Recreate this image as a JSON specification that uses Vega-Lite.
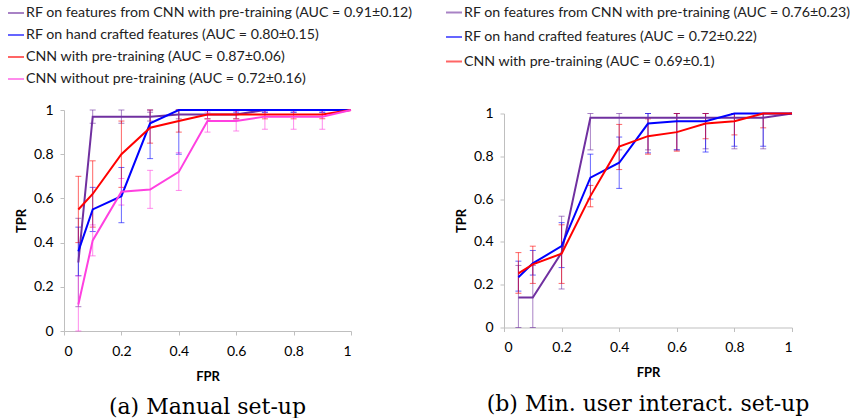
{
  "$schema": "https://vega.github.io/schema/vega-lite/v6.json",
  "padding": {"left": 7, "top": 3, "right": 0, "bottom": 0},
  "background": "white",
  "bounds": "flush",
  "center": true,
  "spacing": 153,
  "datasets": {
    "a": [
      {"series": "RF on features from CNN with pre-training (AUC = 0.91±0.12)", "fpr": 0.05, "tpr": 0.31, "lo": 0.11, "hi": 0.51},
      {"series": "RF on features from CNN with pre-training (AUC = 0.91±0.12)", "fpr": 0.1, "tpr": 0.97, "lo": 0.94, "hi": 1.0},
      {"series": "RF on features from CNN with pre-training (AUC = 0.91±0.12)", "fpr": 0.2, "tpr": 0.97, "lo": 0.94, "hi": 1.0},
      {"series": "RF on features from CNN with pre-training (AUC = 0.91±0.12)", "fpr": 0.3, "tpr": 0.97, "lo": 0.95, "hi": 0.99},
      {"series": "RF on features from CNN with pre-training (AUC = 0.91±0.12)", "fpr": 0.4, "tpr": 0.98, "lo": 0.96, "hi": 1.0},
      {"series": "RF on features from CNN with pre-training (AUC = 0.91±0.12)", "fpr": 0.5, "tpr": 0.98, "lo": 0.96, "hi": 1.0},
      {"series": "RF on features from CNN with pre-training (AUC = 0.91±0.12)", "fpr": 0.6, "tpr": 0.98, "lo": 0.96, "hi": 1.0},
      {"series": "RF on features from CNN with pre-training (AUC = 0.91±0.12)", "fpr": 0.7, "tpr": 1.0, "lo": 0.99, "hi": 1.0},
      {"series": "RF on features from CNN with pre-training (AUC = 0.91±0.12)", "fpr": 0.8, "tpr": 1.0, "lo": 0.99, "hi": 1.0},
      {"series": "RF on features from CNN with pre-training (AUC = 0.91±0.12)", "fpr": 0.9, "tpr": 1.0, "lo": 0.99, "hi": 1.0},
      {"series": "RF on features from CNN with pre-training (AUC = 0.91±0.12)", "fpr": 1.0, "tpr": 1.0, "lo": null, "hi": null},
      {"series": "RF on hand crafted features (AUC = 0.80±0.15)", "fpr": 0.05, "tpr": 0.36, "lo": 0.25, "hi": 0.47},
      {"series": "RF on hand crafted features (AUC = 0.80±0.15)", "fpr": 0.1, "tpr": 0.55, "lo": 0.45, "hi": 0.65},
      {"series": "RF on hand crafted features (AUC = 0.80±0.15)", "fpr": 0.2, "tpr": 0.61, "lo": 0.49, "hi": 0.74},
      {"series": "RF on hand crafted features (AUC = 0.80±0.15)", "fpr": 0.3, "tpr": 0.94, "lo": 0.78, "hi": 1.0},
      {"series": "RF on hand crafted features (AUC = 0.80±0.15)", "fpr": 0.4, "tpr": 1.0, "lo": 0.8, "hi": 1.0},
      {"series": "RF on hand crafted features (AUC = 0.80±0.15)", "fpr": 0.5, "tpr": 1.0, "lo": 0.98, "hi": 1.0},
      {"series": "RF on hand crafted features (AUC = 0.80±0.15)", "fpr": 0.6, "tpr": 1.0, "lo": 0.99, "hi": 1.0},
      {"series": "RF on hand crafted features (AUC = 0.80±0.15)", "fpr": 0.7, "tpr": 1.0, "lo": 0.99, "hi": 1.0},
      {"series": "RF on hand crafted features (AUC = 0.80±0.15)", "fpr": 0.8, "tpr": 1.0, "lo": 0.99, "hi": 1.0},
      {"series": "RF on hand crafted features (AUC = 0.80±0.15)", "fpr": 0.9, "tpr": 1.0, "lo": 0.99, "hi": 1.0},
      {"series": "RF on hand crafted features (AUC = 0.80±0.15)", "fpr": 1.0, "tpr": 1.0, "lo": null, "hi": null},
      {"series": "CNN with pre-training (AUC = 0.87±0.06)", "fpr": 0.05, "tpr": 0.55, "lo": 0.4, "hi": 0.7},
      {"series": "CNN with pre-training (AUC = 0.87±0.06)", "fpr": 0.1, "tpr": 0.62, "lo": 0.47, "hi": 0.77},
      {"series": "CNN with pre-training (AUC = 0.87±0.06)", "fpr": 0.2, "tpr": 0.8, "lo": 0.65, "hi": 0.95},
      {"series": "CNN with pre-training (AUC = 0.87±0.06)", "fpr": 0.3, "tpr": 0.92, "lo": 0.85, "hi": 1.0},
      {"series": "CNN with pre-training (AUC = 0.87±0.06)", "fpr": 0.4, "tpr": 0.95, "lo": 0.9, "hi": 1.0},
      {"series": "CNN with pre-training (AUC = 0.87±0.06)", "fpr": 0.5, "tpr": 0.98, "lo": 0.96, "hi": 1.0},
      {"series": "CNN with pre-training (AUC = 0.87±0.06)", "fpr": 0.6, "tpr": 0.98, "lo": 0.96, "hi": 1.0},
      {"series": "CNN with pre-training (AUC = 0.87±0.06)", "fpr": 0.7, "tpr": 0.98, "lo": 0.96, "hi": 1.0},
      {"series": "CNN with pre-training (AUC = 0.87±0.06)", "fpr": 0.8, "tpr": 0.98, "lo": 0.96, "hi": 1.0},
      {"series": "CNN with pre-training (AUC = 0.87±0.06)", "fpr": 0.9, "tpr": 0.98, "lo": 0.96, "hi": 1.0},
      {"series": "CNN with pre-training (AUC = 0.87±0.06)", "fpr": 1.0, "tpr": 1.0, "lo": null, "hi": null},
      {"series": "CNN without pre-training (AUC = 0.72±0.16)", "fpr": 0.05, "tpr": 0.12, "lo": 0.0, "hi": 0.25},
      {"series": "CNN without pre-training (AUC = 0.72±0.16)", "fpr": 0.1, "tpr": 0.41, "lo": 0.34, "hi": 0.48},
      {"series": "CNN without pre-training (AUC = 0.72±0.16)", "fpr": 0.2, "tpr": 0.63, "lo": 0.57, "hi": 0.69},
      {"series": "CNN without pre-training (AUC = 0.72±0.16)", "fpr": 0.3, "tpr": 0.64, "lo": 0.555, "hi": 0.727},
      {"series": "CNN without pre-training (AUC = 0.72±0.16)", "fpr": 0.4, "tpr": 0.72, "lo": 0.636, "hi": 0.807},
      {"series": "CNN without pre-training (AUC = 0.72±0.16)", "fpr": 0.5, "tpr": 0.95, "lo": 0.9, "hi": 0.99},
      {"series": "CNN without pre-training (AUC = 0.72±0.16)", "fpr": 0.6, "tpr": 0.95, "lo": 0.905, "hi": 0.995},
      {"series": "CNN without pre-training (AUC = 0.72±0.16)", "fpr": 0.7, "tpr": 0.97, "lo": 0.913, "hi": 1.0},
      {"series": "CNN without pre-training (AUC = 0.72±0.16)", "fpr": 0.8, "tpr": 0.97, "lo": 0.913, "hi": 1.0},
      {"series": "CNN without pre-training (AUC = 0.72±0.16)", "fpr": 0.9, "tpr": 0.97, "lo": 0.913, "hi": 1.0},
      {"series": "CNN without pre-training (AUC = 0.72±0.16)", "fpr": 1.0, "tpr": 1.0, "lo": null, "hi": null}
    ],
    "b": [
      {"series": "RF on features from CNN with pre-training (AUC = 0.76±0.23)", "fpr": 0.05, "tpr": 0.14, "lo": 0.0, "hi": 0.29},
      {"series": "RF on features from CNN with pre-training (AUC = 0.76±0.23)", "fpr": 0.1, "tpr": 0.14, "lo": 0.0, "hi": 0.29},
      {"series": "RF on features from CNN with pre-training (AUC = 0.76±0.23)", "fpr": 0.2, "tpr": 0.35, "lo": 0.18, "hi": 0.52},
      {"series": "RF on features from CNN with pre-training (AUC = 0.76±0.23)", "fpr": 0.3, "tpr": 0.98, "lo": 0.83, "hi": 1.0},
      {"series": "RF on features from CNN with pre-training (AUC = 0.76±0.23)", "fpr": 0.4, "tpr": 0.98, "lo": 0.83, "hi": 1.0},
      {"series": "RF on features from CNN with pre-training (AUC = 0.76±0.23)", "fpr": 0.5, "tpr": 0.98, "lo": 0.83, "hi": 1.0},
      {"series": "RF on features from CNN with pre-training (AUC = 0.76±0.23)", "fpr": 0.6, "tpr": 0.98, "lo": 0.83, "hi": 1.0},
      {"series": "RF on features from CNN with pre-training (AUC = 0.76±0.23)", "fpr": 0.7, "tpr": 0.98, "lo": 0.835, "hi": 1.0},
      {"series": "RF on features from CNN with pre-training (AUC = 0.76±0.23)", "fpr": 0.8, "tpr": 0.98, "lo": 0.835, "hi": 1.0},
      {"series": "RF on features from CNN with pre-training (AUC = 0.76±0.23)", "fpr": 0.9, "tpr": 0.98, "lo": 0.835, "hi": 1.0},
      {"series": "RF on features from CNN with pre-training (AUC = 0.76±0.23)", "fpr": 1.0, "tpr": 1.0, "lo": null, "hi": null},
      {"series": "RF on hand crafted features (AUC = 0.72±0.22)", "fpr": 0.05, "tpr": 0.235, "lo": 0.17, "hi": 0.31},
      {"series": "RF on hand crafted features (AUC = 0.72±0.22)", "fpr": 0.1, "tpr": 0.3, "lo": 0.245, "hi": 0.36},
      {"series": "RF on hand crafted features (AUC = 0.72±0.22)", "fpr": 0.2, "tpr": 0.38, "lo": 0.28, "hi": 0.49},
      {"series": "RF on hand crafted features (AUC = 0.72±0.22)", "fpr": 0.3, "tpr": 0.7, "lo": 0.6, "hi": 0.81},
      {"series": "RF on hand crafted features (AUC = 0.72±0.22)", "fpr": 0.4, "tpr": 0.77, "lo": 0.65, "hi": 0.89},
      {"series": "RF on hand crafted features (AUC = 0.72±0.22)", "fpr": 0.5, "tpr": 0.953, "lo": 0.816, "hi": 1.0},
      {"series": "RF on hand crafted features (AUC = 0.72±0.22)", "fpr": 0.6, "tpr": 0.964, "lo": 0.83, "hi": 1.0},
      {"series": "RF on hand crafted features (AUC = 0.72±0.22)", "fpr": 0.7, "tpr": 0.964, "lo": 0.82, "hi": 1.0},
      {"series": "RF on hand crafted features (AUC = 0.72±0.22)", "fpr": 0.8, "tpr": 1.0, "lo": 0.847, "hi": 1.0},
      {"series": "RF on hand crafted features (AUC = 0.72±0.22)", "fpr": 0.9, "tpr": 1.0, "lo": 0.847, "hi": 1.0},
      {"series": "RF on hand crafted features (AUC = 0.72±0.22)", "fpr": 1.0, "tpr": 1.0, "lo": null, "hi": null},
      {"series": "CNN with pre-training (AUC = 0.69±0.1)", "fpr": 0.05, "tpr": 0.253, "lo": 0.16, "hi": 0.35},
      {"series": "CNN with pre-training (AUC = 0.69±0.1)", "fpr": 0.1, "tpr": 0.295, "lo": 0.206, "hi": 0.38},
      {"series": "CNN with pre-training (AUC = 0.69±0.1)", "fpr": 0.2, "tpr": 0.345, "lo": 0.206, "hi": 0.48},
      {"series": "CNN with pre-training (AUC = 0.69±0.1)", "fpr": 0.3, "tpr": 0.614, "lo": 0.564, "hi": 0.664},
      {"series": "CNN with pre-training (AUC = 0.69±0.1)", "fpr": 0.4, "tpr": 0.845, "lo": 0.738, "hi": 0.949},
      {"series": "CNN with pre-training (AUC = 0.69±0.1)", "fpr": 0.5, "tpr": 0.894, "lo": 0.81, "hi": 0.975},
      {"series": "CNN with pre-training (AUC = 0.69±0.1)", "fpr": 0.6, "tpr": 0.913, "lo": 0.824, "hi": 1.0},
      {"series": "CNN with pre-training (AUC = 0.69±0.1)", "fpr": 0.7, "tpr": 0.953, "lo": 0.882, "hi": 1.0},
      {"series": "CNN with pre-training (AUC = 0.69±0.1)", "fpr": 0.8, "tpr": 0.964, "lo": 0.9, "hi": 1.0},
      {"series": "CNN with pre-training (AUC = 0.69±0.1)", "fpr": 0.9, "tpr": 1.0, "lo": 0.933, "hi": 1.0},
      {"series": "CNN with pre-training (AUC = 0.69±0.1)", "fpr": 1.0, "tpr": 1.0, "lo": null, "hi": null}
    ]
  },
  "hconcat": [
    {
      "width": 287,
      "height": 221,
      "data": {"name": "a"},
      "title": {"text": "(a) Manual set-up"},
      "encoding": {
        "x": {"field": "fpr", "type": "quantitative", "scale": {"domain": [0, 1]}, "axis": {"values": [0, 0.2, 0.4, 0.6, 0.8, 1], "format": "~g", "title": "FPR"}},
        "color": {
          "field": "series", "type": "nominal",
          "scale": {
            "domain": ["RF on features from CNN with pre-training (AUC = 0.91±0.12)", "RF on hand crafted features (AUC = 0.80±0.15)", "CNN with pre-training (AUC = 0.87±0.06)", "CNN without pre-training (AUC = 0.72±0.16)"],
            "range": ["#7030A0", "#0000FF", "#FF0000", "#FF40E0"]
          },
          "legend": {"orient": "none", "legendX": -57, "legendY": -106, "rowPadding": 5}
        }
      },
      "layer": [
        {
          "mark": {"type": "errorbar", "ticks": {"size": 6, "opacity": 0.6}, "rule": {"opacity": 0.6}, "thickness": 1},
          "encoding": {
            "y": {"field": "lo", "type": "quantitative", "scale": {"domain": [0, 1]}, "axis": {"values": [0, 0.2, 0.4, 0.6, 0.8, 1], "format": "~g", "title": "TPR"}},
            "y2": {"field": "hi"}
          }
        },
        {
          "mark": {"type": "line", "strokeWidth": 2},
          "encoding": {
            "y": {"field": "tpr", "type": "quantitative", "scale": {"domain": [0, 1]}, "axis": {"values": [0, 0.2, 0.4, 0.6, 0.8, 1], "format": "~g", "title": "TPR"}}
          }
        }
      ]
    },
    {
      "width": 288,
      "height": 214,
      "data": {"name": "b"},
      "title": {"text": "(b) Min. user interact. set-up"},
      "encoding": {
        "x": {"field": "fpr", "type": "quantitative", "scale": {"domain": [0, 1]}, "axis": {"values": [0, 0.2, 0.4, 0.6, 0.8, 1], "format": "~g", "title": "FPR"}},
        "color": {
          "field": "series", "type": "nominal",
          "scale": {
            "domain": ["RF on features from CNN with pre-training (AUC = 0.76±0.23)", "RF on hand crafted features (AUC = 0.72±0.22)", "CNN with pre-training (AUC = 0.69±0.1)"],
            "range": ["#7030A0", "#0000FF", "#FF0000"]
          },
          "legend": {"orient": "none", "legendX": -59, "legendY": -110, "rowPadding": 7.5}
        }
      },
      "layer": [
        {
          "mark": {"type": "errorbar", "ticks": {"size": 6, "opacity": 0.6}, "rule": {"opacity": 0.6}, "thickness": 1},
          "encoding": {
            "y": {"field": "lo", "type": "quantitative", "scale": {"domain": [0, 1]}, "axis": {"values": [0, 0.2, 0.4, 0.6, 0.8, 1], "format": "~g", "title": "TPR"}},
            "y2": {"field": "hi"}
          }
        },
        {
          "mark": {"type": "line", "strokeWidth": 2},
          "encoding": {
            "y": {"field": "tpr", "type": "quantitative", "scale": {"domain": [0, 1]}, "axis": {"values": [0, 0.2, 0.4, 0.6, 0.8, 1], "format": "~g", "title": "TPR"}}
          }
        }
      ]
    }
  ],
  "resolve": {"scale": {"color": "independent"}},
  "config": {
    "view": {"stroke": null},
    "axis": {
      "grid": false,
      "domainColor": "#BFBFBF",
      "tickColor": "#BFBFBF",
      "tickSize": 4,
      "labelFont": "Lato",
      "labelFontSize": 14,
      "labelColor": "#000000",
      "titleFont": "Lato",
      "titleFontSize": 13,
      "titleFontWeight": "bold",
      "titleColor": "#000000"
    },
    "axisX": {"labelPadding": 9, "titlePadding": 12},
    "axisY": {"labelPadding": 7, "titlePadding": 5},
    "legend": {
      "title": null,
      "symbolType": "stroke",
      "symbolSize": 256,
      "symbolStrokeWidth": 2,
      "labelFont": "Lato",
      "labelFontSize": 14.2,
      "labelLimit": 0,
      "labelColor": "#222222",
      "labelOffset": 1,
      "padding": 0
    },
    "title": {
      "orient": "bottom",
      "anchor": "middle",
      "frame": "group",
      "font": "DejaVu Serif",
      "fontSize": 22,
      "fontWeight": "normal",
      "color": "#000000",
      "offset": 14
    }
  }
}
